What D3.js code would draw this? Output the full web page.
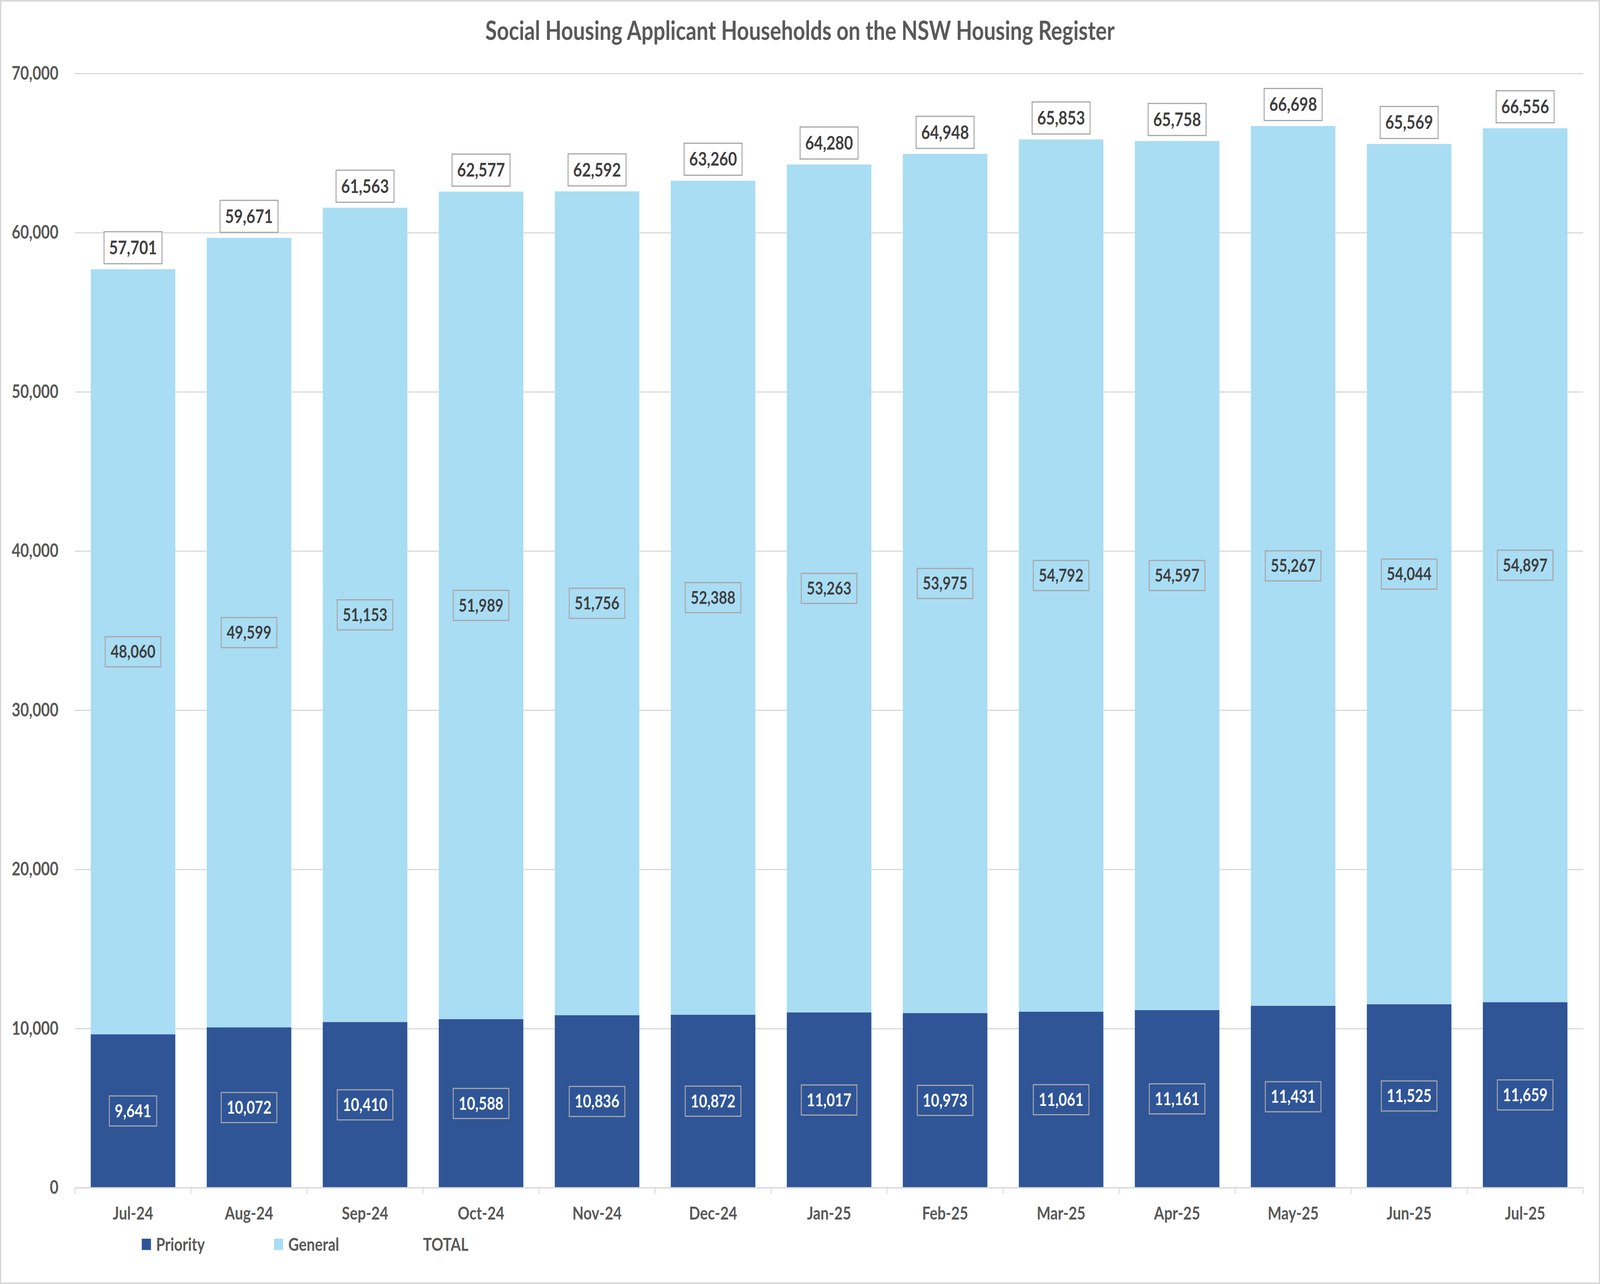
<!DOCTYPE html>
<html>
<head>
<meta charset="utf-8">
<script src="https://cdn.jsdelivr.net/npm/d3@7"></script>
<style>
  html, body { margin: 0; padding: 0; background: #fff; overflow: hidden; }
  svg { display: block; font-family: Lato, "Open Sans", sans-serif; font-weight: bold; }
</style>
</head>
<body>
<svg id="chart"></svg>
<script>
const months = ["Jul-24","Aug-24","Sep-24","Oct-24","Nov-24","Dec-24","Jan-25","Feb-25","Mar-25","Apr-25","May-25","Jun-25","Jul-25"];
const priority = [9641,10072,10410,10588,10836,10872,11017,10973,11061,11161,11431,11525,11659];
const general = [48060,49599,51153,51989,51756,52388,53263,53975,54792,54597,55267,54044,54897];
const total = [57701,59671,61563,62577,62592,63260,64280,64948,65853,65758,66698,65569,66556];
const yTicks = [0,10000,20000,30000,40000,50000,60000,70000];
const seriesNames = ["Priority","General","TOTAL"];
const titleText = "Social Housing Applicant Households on the NSW Housing Register";

const W = 5034, H = 3287;
const plot = {left: 236, right: 4981, top: 188, bottom: 3040.5};
const colors = {Priority: "#2F5597", General: "#A9DDF4"};

const svg = d3.select("#chart")
  .attr("viewBox", `0 0 ${W} ${H}`)
  .attr("preserveAspectRatio", "none")
  .style("width", "100vw").style("height", "100vh");
svg.append("rect").attr("x", 2).attr("y", 2).attr("width", W - 4).attr("height", H - 4)
  .attr("fill", "#fff").attr("stroke", "#d9d9d9").attr("stroke-width", 4);

const fmt = d3.format(",");
const x = d3.scaleBand().domain(months).range([plot.left, plot.right])
  .paddingInner(0.271).paddingOuter(0.1355);
const y = d3.scaleLinear().domain([0, 70000]).range([plot.bottom, plot.top]);

// Title
svg.append("text").attr("x", 2517).attr("y", 102).attr("text-anchor", "middle")
  .attr("fill", "#595959").style("font-size", "66px").text(titleText);

// Gridlines + y axis
const yAxis = d3.axisLeft(y).tickValues(yTicks).tickFormat(fmt)
  .tickSize(-(plot.right - plot.left)).tickPadding(52);
const gy = svg.append("g").attr("transform", `translate(${plot.left},0)`).call(yAxis);
gy.select(".domain").remove();
gy.selectAll(".tick line").attr("stroke", "#d9d9d9").attr("stroke-width", 3);
gy.selectAll(".tick text").attr("fill", "#595959").style("font-size", "47px")
  .style("font-family", "Lato, sans-serif").style("font-weight", "bold");

// Stacked bars
const table = months.map((m, i) => ({month: m, Priority: priority[i], General: general[i]}));
const stack = d3.stack().keys(["Priority", "General"])(table);
const layers = svg.append("g").selectAll("g").data(stack).join("g")
  .attr("fill", d => colors[d.key]);
layers.selectAll("rect").data(d => d).join("rect")
  .attr("x", d => x(d.data.month))
  .attr("width", x.bandwidth())
  .attr("y", d => y(d[1]))
  .attr("height", d => y(d[0]) - y(d[1]));

// X axis line and boundary ticks
const gx = svg.append("g");
gx.append("line").attr("x1", plot.left).attr("x2", plot.right)
  .attr("y1", plot.bottom).attr("y2", plot.bottom)
  .attr("stroke", "#d9d9d9").attr("stroke-width", 3);
const boundaries = months.map(m => x(m) + x.bandwidth() / 2 - x.step() / 2)
  .concat([x(months[months.length - 1]) + x.bandwidth() / 2 + x.step() / 2]);
gx.selectAll("line.bt").data(boundaries).join("line").attr("class", "bt")
  .attr("x1", d => d).attr("x2", d => d)
  .attr("y1", plot.bottom).attr("y2", plot.bottom + 16)
  .attr("stroke", "#d9d9d9").attr("stroke-width", 3);
const xAxis = d3.axisBottom(x).tickSize(0).tickPadding(0);
const gxa = svg.append("g").attr("transform", `translate(0,${plot.bottom})`).call(xAxis);
gxa.select(".domain").remove();
gxa.selectAll(".tick text").attr("y", 65).attr("dy", "0.35em").attr("fill", "#595959")
  .style("font-size", "46px").style("font-family", "Lato, sans-serif").style("font-weight", "bold");

// Label helper
function boxLabel(g, cx, cy, txt, color, size, fill, padX, h) {
  const t = g.append("text").attr("x", cx).attr("y", cy).attr("dy", "0.35em")
    .attr("text-anchor", "middle").attr("fill", color).style("font-size", size + "px").text(txt);
  const bb = t.node().getBBox();
  g.insert("rect", "text").attr("x", cx - bb.width / 2 - padX).attr("y", cy - h / 2)
    .attr("width", bb.width + 2 * padX).attr("height", h)
    .attr("fill", fill).attr("stroke", "#a6a6a6").attr("stroke-width", 3);
}

const labels = svg.append("g");
stack.forEach(layer => {
  layer.forEach(d => {
    const g = labels.append("g");
    const cy = (y(d[0]) + y(d[1])) / 2;
    const isP = layer.key === "Priority";
    boxLabel(g, x(d.data.month) + x.bandwidth() / 2, cy, fmt(d[1] - d[0]),
      isP ? "#ffffff" : "#404040", 45, "none", 17, 77);
  });
});
months.forEach((m, i) => {
  const g = labels.append("g");
  const cy = y(total[i]) - 14 - 41;
  boxLabel(g, x(m) + x.bandwidth() / 2, cy, fmt(total[i]), "#404040", 48, "#ffffff", 16, 82);
});

// Legend
const legend = svg.append("g");
const legendX = [446, 862, 1278];
seriesNames.forEach((name, i) => {
  if (colors[name]) {
    legend.append("rect").attr("x", legendX[i]).attr("y", 3171).attr("width", 29).attr("height", 29)
      .attr("fill", colors[name]);
  }
  legend.append("text").attr("x", legendX[i] + (i === 2 ? 53 : 45)).attr("y", 3186).attr("dy", "0.35em")
    .attr("fill", "#595959").style("font-size", "46px").text(name);
});
</script>
</body>
</html>
